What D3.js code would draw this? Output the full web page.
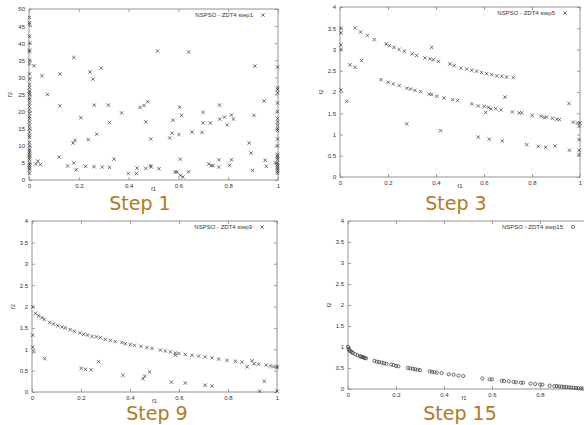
<!DOCTYPE html>
<html>
  <head>
    <meta charset="utf-8">
    <script src="https://d3js.org/d3.v7.min.js"></script>
    <style>
      body { margin: 0px; background: #fff; }
      .tick line { stroke: #888; stroke-width: 0.8; }
      .tick text { fill: #333; font-size: 6px; font-family: "Liberation Sans", sans-serif; }
      .legend { fill: #333; font-size: 6px; font-family: "Liberation Sans", sans-serif; }
      .axis-label { fill: #333; font-size: 6px; font-family: "Liberation Sans", sans-serif; }
      .step { fill: #b07a1c; font-size: 19px; font-family: "DejaVu Sans", sans-serif; }
    </style>
  </head>
  <body>
    <svg width="584" height="425"></svg>
    <script>
      // [f1, f2] pairs
      const step1 = [
        [0.002,47.5],[0.002,46],[0.002,45.5],[0.002,42],[0.002,40],[0.002,38],[0.002,37.5],[0.002,35],[0.002,34],
        [0.002,31],[0.002,29.5],[0.002,28],[0.002,27],[0.002,26],[0.002,25.5],[0.002,25],[0.002,24],[0.002,23.5],
        [0.002,22.5],[0.002,21.5],[0.002,20.5],[0.002,19.5],[0.002,18.5],[0.002,18],[0.002,17],[0.002,16],[0.002,15],
        [0.002,14],[0.002,13],[0.002,12.5],[0.002,11],[0.002,10],[0.002,9],[0.002,8.5],[0.002,8],[0.002,7.5],[0.002,7],
        [0.002,6.5],[0.002,6],[0.002,5],[0.002,4.5],[0.002,4],[0.002,3.5],[0.002,3],[0.002,2],
        [0.02,33.4],[0.052,30.5],[0.074,25],[0.124,31],[0.124,21.7],[0.121,6.7],[0.18,35.8],[0.185,11.6],[0.177,10.8],
        [0.18,5],[0.19,3],[0.155,4.1],[0.027,4.7],[0.036,5.5],[0.046,4.5],[0.245,31.6],[0.257,29.5],[0.208,18.2],
        [0.238,11.8],[0.262,21.9],[0.272,13.4],[0.227,4],[0.261,3.9],[0.29,32.7],[0.319,21.9],[0.323,16.8],[0.294,3.8],
        [0.323,3.7],[0.341,6.1],[0.399,1.9],[0.372,19.6],[0.431,1.9],[0.434,3.5],[0.446,21.2],[0.462,21.8],[0.477,22.9],
        [0.469,17],[0.469,3.4],[0.489,12],[0.489,4.2],[0.489,3.8],[0.516,37.7],[0.522,3.3],[0.565,12.3],[0.575,13.7],
        [0.578,17.5],[0.587,2.4],[0.594,2.3],[0.602,13.3],[0.605,21.3],[0.613,18.9],[0.608,6.1],[0.608,1.4],[0.618,0.9],
        [0.641,2.4],[0.641,37.4],[0.655,14],[0.695,13.9],[0.699,16.7],[0.699,19.8],[0.728,16.7],[0.722,4.7],[0.731,4.2],
        [0.739,4.2],[0.765,21.9],[0.766,17.8],[0.762,5.9],[0.762,3.8],[0.785,18.4],[0.796,16.1],[0.813,19],[0.821,17.8],
        [0.806,4.3],[0.813,5.9],[0.884,10.8],[0.892,7.9],[0.898,2.8],[0.903,18.9],[0.907,33.3],[0.944,23.1],[0.948,5.8],
        [0.953,4],[0.99,5],
        [0.998,33],[0.998,27],[0.998,26.5],[0.998,25.5],[0.998,22.5],[0.998,20],[0.998,18],[0.998,17],[0.998,16],
        [0.998,15],[0.998,14.5],[0.998,12],[0.998,10],[0.998,7.5],[0.998,7],[0.998,6.5],[0.998,6],[0.998,5],[0.998,4.5],
        [0.998,4],[0.998,3.5],[0.998,3],[0.998,2.5],[0.998,2]
      ];

      const step3 = [
        [0.0625,3.51],[0.086,3.41],[0.114,3.33],[0.143,3.23],[0.192,3.13],[0.206,3.09],[0.225,3.05],[0.246,3.0],
        [0.268,2.96],[0.301,2.9],[0.319,2.86],[0.354,2.8],[0.375,2.78],[0.389,2.76],[0.41,2.72],[0.382,3.05],
        [0.458,2.66],[0.476,2.62],[0.504,2.56],[0.528,2.54],[0.549,2.51],[0.569,2.49],[0.59,2.46],[0.611,2.43],
        [0.632,2.41],[0.653,2.38],[0.674,2.37],[0.694,2.35],[0.722,2.34],
        [0.171,2.29],[0.201,2.23],[0.222,2.19],[0.247,2.15],[0.278,2.09],[0.294,2.07],[0.3125,2.04],[0.336,2.01],
        [0.372,1.95],[0.382,1.94],[0.403,1.9],[0.433,1.86],[0.469,1.82],[0.49,1.8],[0.549,1.72],[0.576,1.67],
        [0.601,1.66],[0.618,1.64],[0.629,1.6],[0.649,1.61],[0.671,1.58],[0.718,1.53],[0.746,1.51],[0.757,1.51],
        [0.801,1.45],[0.838,1.43],[0.851,1.4],[0.861,1.41],[0.885,1.38],[0.903,1.36],[0.914,1.35],[0.972,1.29],
        [0.99,1.27],[1.0,1.27],
        [0.028,1.78],[0.042,2.64],[0.0625,2.58],[0.09,2.74],[0.004,3.5],[0.004,3.39],[0.004,3.11],[0.004,3.0],
        [0.004,2.05],[0.278,1.25],[0.419,1.09],[0.576,0.94],[0.622,0.89],[0.676,0.85],[0.6875,1.88],[0.607,1.52],
        [0.778,0.76],[0.826,0.72],[0.857,0.7],[0.896,0.73],[0.954,1.73],[0.956,0.63],[0.996,1.19],[0.996,0.88],
        [0.996,0.63],[0.996,0.53]
      ];

      const step9 = [
        [0.014,1.84],[0.027,1.78],[0.041,1.74],[0.05,1.7],[0.072,1.63],[0.088,1.59],[0.105,1.55],[0.122,1.52],
        [0.136,1.5],[0.156,1.46],[0.173,1.42],[0.195,1.38],[0.211,1.35],[0.227,1.33],[0.245,1.3],[0.263,1.29],
        [0.279,1.27],[0.299,1.23],[0.32,1.21],[0.34,1.18],[0.367,1.16],[0.381,1.13],[0.401,1.11],[0.418,1.09],
        [0.445,1.07],[0.469,1.04],[0.49,1.02],[0.524,0.98],[0.544,0.96],[0.565,0.94],[0.585,0.91],[0.599,0.9],
        [0.626,0.88],[0.653,0.86],[0.68,0.84],[0.707,0.82],[0.735,0.8],[0.762,0.77],[0.796,0.74],[0.83,0.72],
        [0.857,0.7],[0.898,0.73],[0.907,0.66],[0.925,0.65],[0.956,0.63],[0.973,0.61],[0.986,0.59],[1.0,0.57],
        [0.003,1.99],[0.003,1.33],[0.003,1.05],[0.007,0.94],[0.052,0.78],[0.201,0.55],[0.218,0.53],[0.241,0.52],
        [0.272,0.71],[0.371,0.39],[0.453,0.31],[0.46,0.37],[0.48,0.47],[0.569,0.23],[0.626,0.21],[0.707,0.16],
        [0.735,0.14],[0.585,0.86],[0.878,0.59],[0.948,0.25],[0.929,0.02],[1.0,0.02],[1.0,0.6]
      ];

      const step15 = [
        [0.0,1.0],[0.003,0.95],[0.006,0.92],[0.01,0.9],[0.015,0.88],[0.02,0.86],[0.03,0.83],[0.04,0.8],[0.05,0.78],
        [0.055,0.77],[0.06,0.76],[0.065,0.75],[0.07,0.74],[0.075,0.73],
        [0.11,0.67],[0.12,0.65],[0.13,0.64],[0.14,0.63],[0.15,0.61],[0.16,0.6],[0.18,0.58],[0.19,0.57],[0.2,0.55],[0.21,0.54],
        [0.25,0.5],[0.26,0.49],[0.27,0.48],[0.28,0.47],[0.29,0.46],[0.3,0.45],
        [0.34,0.42],[0.35,0.41],[0.36,0.4],[0.37,0.39],[0.39,0.38],
        [0.42,0.35],[0.44,0.34],[0.46,0.32],[0.48,0.31],
        [0.56,0.25],[0.59,0.23],[0.6,0.23],
        [0.64,0.2],[0.65,0.19],[0.67,0.18],[0.69,0.17],[0.7,0.16],[0.72,0.15],[0.73,0.15],[0.76,0.13],[0.78,0.12],
        [0.8,0.11],[0.81,0.1],[0.84,0.08],[0.86,0.07],[0.87,0.07],[0.88,0.06],[0.89,0.06],[0.9,0.05],[0.91,0.05],
        [0.92,0.04],[0.93,0.035],[0.94,0.03],[0.95,0.025],[0.96,0.02],[0.97,0.015],[0.98,0.01]
      ];

      const xTicks = [0, 0.2, 0.4, 0.6, 0.8, 1];
      const yTicksStep1 = [0, 5, 10, 15, 20, 25, 30, 35, 40, 45, 50];
      const yTicksFront = [0, 0.5, 1, 1.5, 2, 2.5, 3, 3.5, 4];

      const panels = [
        { data: step1, yMax: 50, yTicks: yTicksStep1, legend: 'NSPSO - ZDT4 step1', title: 'Step 1', mark: 'x',
          left: 29, right: 278, top: 9, bottom: 180, titleX: 140, titleY: 210 },
        { data: step3, yMax: 4, yTicks: yTicksFront, legend: 'NSPSO - ZDT4 step5', title: 'Step 3', mark: 'x',
          left: 340, right: 580, top: 7, bottom: 177, titleX: 456, titleY: 210 },
        { data: step9, yMax: 4, yTicks: yTicksFront, legend: 'NSPSO - ZDT4 step9', title: 'Step 9', mark: 'x',
          left: 32, right: 277, top: 221, bottom: 392, titleX: 157, titleY: 420 },
        { data: step15, yMax: 4, yTicks: yTicksFront, legend: 'NSPSO - ZDT4 step15', title: 'Step 15', mark: 'o',
          left: 348, right: 588, top: 221, bottom: 389, titleX: 460, titleY: 420 }
      ];

      const svg = d3.select('svg');
      const W = +svg.attr('width');
      const cross = 'M-1.7,-1.7L1.7,1.7M-1.7,1.7L1.7,-1.7';

      panels.forEach(p => {
        const x = d3.scaleLinear().domain([0, 1]).range([p.left, p.right]);
        const y = d3.scaleLinear().domain([0, p.yMax]).range([p.bottom, p.top]);
        const g = svg.append('g');
        const fmt = d => String(d);
        // ticks that fall off the page are not labelled
        const xt = xTicks.filter(t => x(t) <= W - 2);

        g.append('g').attr('transform', `translate(0,${p.bottom})`)
          .call(d3.axisBottom(x).tickValues(xt).tickSize(-3).tickPadding(4).tickFormat(fmt));
        g.append('g').attr('transform', `translate(0,${p.top})`)
          .call(d3.axisTop(x).tickValues(xt).tickSize(-3).tickFormat(''));
        g.append('g').attr('transform', `translate(${p.left},0)`)
          .call(d3.axisLeft(y).tickValues(p.yTicks).tickSize(-3).tickPadding(4).tickFormat(fmt));
        g.append('g').attr('transform', `translate(${p.right},0)`)
          .call(d3.axisRight(y).tickValues(p.yTicks).tickSize(-3).tickFormat(''));
        g.selectAll('.domain').remove();

        g.append('rect')
          .attr('x', p.left).attr('y', p.top)
          .attr('width', p.right - p.left).attr('height', p.bottom - p.top)
          .attr('fill', 'none').attr('stroke', '#888').attr('stroke-width', 0.9);

        // points
        if (p.mark === 'x') {
          g.selectAll('.pt').data(p.data).enter().append('path')
            .attr('class', 'pt')
            .attr('transform', d => `translate(${x(d[0])},${y(d[1])})`)
            .attr('d', cross)
            .attr('stroke', '#333').attr('stroke-width', 0.7).attr('fill', 'none');
        } else {
          g.selectAll('.pt').data(p.data).enter().append('circle')
            .attr('class', 'pt')
            .attr('cx', d => x(d[0])).attr('cy', d => y(d[1])).attr('r', 1.6)
            .attr('stroke', '#333').attr('stroke-width', 0.7).attr('fill', 'none');
        }

        // legend
        const ly = p.top + 6;
        g.append('text').attr('class', 'legend')
          .attr('x', p.right - 25).attr('y', ly).attr('dy', '0.35em')
          .attr('text-anchor', 'end').text(p.legend);
        if (p.mark === 'x') {
          g.append('path').attr('transform', `translate(${p.right - 15},${ly})`)
            .attr('d', cross).attr('stroke', '#333').attr('stroke-width', 0.7);
        } else {
          g.append('circle').attr('cx', p.right - 15).attr('cy', ly).attr('r', 1.6)
            .attr('stroke', '#333').attr('stroke-width', 0.7).attr('fill', 'none');
        }

        // axis labels
        g.append('text').attr('class', 'axis-label')
          .attr('x', (p.left + p.right) / 2 - (p.right > W ? 4 : 0)).attr('y', p.bottom + 11)
          .attr('text-anchor', 'middle').text('f1');
        g.append('text').attr('class', 'axis-label')
          .attr('transform', `translate(${p.left - 17},${(p.top + p.bottom) / 2}) rotate(-90)`)
          .attr('text-anchor', 'middle').text('f2');

        g.append('text').attr('class', 'step')
          .attr('x', p.titleX).attr('y', p.titleY)
          .attr('text-anchor', 'middle').text(p.title);
      });
    </script>
  </body>
</html>
